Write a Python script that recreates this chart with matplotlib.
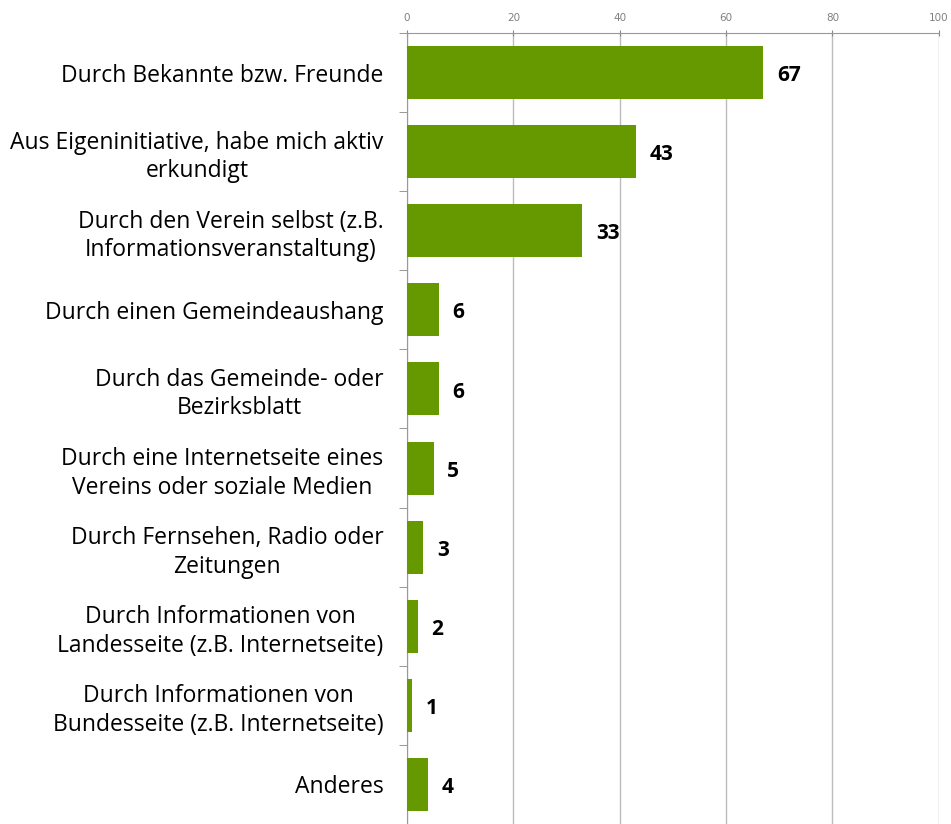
import numpy as np
import matplotlib.pyplot as plt

categories = [
    "Durch Bekannte bzw. Freunde",
    "Aus Eigeninitiative, habe mich aktiv\nerkundigt",
    "Durch den Verein selbst (z.B.\nInformationsveranstaltung)",
    "Durch einen Gemeindeaushang",
    "Durch das Gemeinde- oder\nBezirksblatt",
    "Durch eine Internetseite eines\nVereins oder soziale Medien",
    "Durch Fernsehen, Radio oder\nZeitungen",
    "Durch Informationen von\nLandesseite (z.B. Internetseite)",
    "Durch Informationen von\nBundesseite (z.B. Internetseite)",
    "Anderes",
]
values = [67, 43, 33, 6, 6, 5, 3, 2, 1, 4]
xticks = [0, 20, 40, 60, 80, 100]

fig = plt.figure(figsize=(9.51, 8.24), dpi=100)
ax = fig.add_axes([0.428, 0.0, 0.987 - 0.428, 0.96])

y = np.arange(len(categories))
ax.barh(y, values, height=0.67, color="#669900", zorder=3)
ax.set_ylim(len(categories) - 0.5, -0.5)
ax.set_xlim(0, 100)

# value labels, nudged a little below bar centre like the original
for yi, v in zip(y, values):
    ax.text(v + 2.6, yi + 0.04, str(v), va="center", ha="left", fontsize=15,
            fontweight="bold", color="black", family="Open Sans")

ax.xaxis.tick_top()
ax.set_xticks(xticks)
ax.tick_params(axis="x", colors="#888888", labelsize=7.5, length=4, direction="inout",
               labelcolor="#808080", pad=5)
ax.grid(axis="x", color="#bcbcbc", linewidth=1, zorder=0)

ax.set_yticks(y)
ax.set_yticklabels(categories, fontsize=16.5, family="Open Sans", ha="right",
                   multialignment="center", linespacing=1.25)
ax.tick_params(axis="y", length=0, pad=17)
ax.set_yticks(np.arange(-0.5, len(categories), 1), minor=True)
ax.tick_params(axis="y", which="minor", length=6, color="#888888")

for s in ["right", "bottom"]:
    ax.spines[s].set_visible(False)
ax.spines["top"].set_color("#999999")
ax.spines["left"].set_color("#999999")

fig.savefig("out.png", dpi=100)
